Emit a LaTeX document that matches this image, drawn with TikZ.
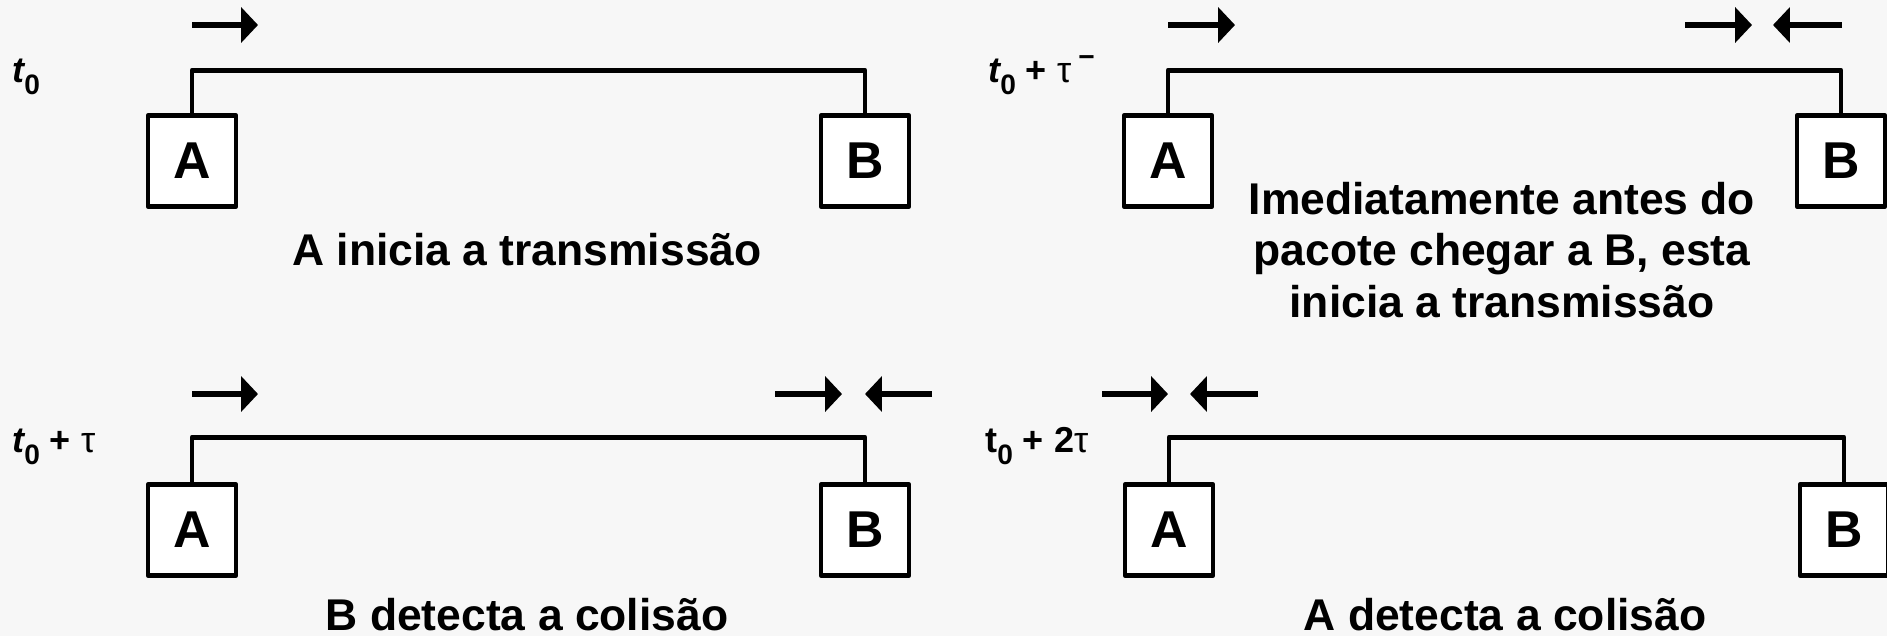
\documentclass[tikz,border=0pt]{standalone}
\usepackage{fontspec}
\setmainfont{Liberation Sans}
\usetikzlibrary{arrows.meta,positioning}

\definecolor{slidegray}{RGB}{247,247,247}

\newcommand{\tsub}{\raisebox{-7pt}{\fontsize{16}{16}\selectfont 0}}
\newcommand{\tzero}{{\itshape t}\tsub}

\tikzset{
  station/.style={draw, line width=2.8pt, line join=round, fill=white,
    minimum width=1.76cm, minimum height=1.81cm, inner sep=0pt,
    font=\fontsize{29.5}{29.5}\selectfont\bfseries},
  bus/.style={line width=2.8pt, line join=round},
  pkt/.style={line width=3.2pt, -{Triangle[length=9.6pt,width=19.8pt]}},
  caption/.style={font=\fontsize{25.3}{29.2}\selectfont\bfseries, align=center, inner sep=0pt},
  tlabel/.style={font=\fontsize{20.5}{20.5}\selectfont\bfseries, anchor=base west, inner sep=0pt},
}

\begin{document}
\begin{tikzpicture}[x=0.02cm, y=-0.02cm]
\useasboundingbox (0,0) rectangle (1887,636);
\fill[slidegray] (0,0) rectangle (1887,636);

% t0 : A starts
\node[tlabel] (t1) at (12,82) {\tzero};
\node[station] (A1) at (192,161) {A};
\node[station] (B1) at (865,161) {B};
\draw[bus] (A1.north) -- ++(0,-43) -| (B1.north);
\draw[pkt] (192,25) -- (258,25);
\node[caption, anchor=base] (c1) at (527,265) {A inicia a transmissão};

% t0 + tau^- : B starts just before the packet arrives
\node[tlabel] (t2) at (988,82) {\tzero{} + {\mdseries τ}\hspace{4pt}\raisebox{9pt}{\fontsize{16}{16}\selectfont −}};
\node[station] (A2) at (1168,161) {A};
\node[station] (B2) at (1841,161) {B};
\draw[bus] (A2.north) -- ++(0,-43) -| (B2.north);
\draw[pkt] (1168,25) -- (1235,25);
\draw[pkt] (1685,25) -- (1752,25);
\draw[pkt] (1842,25) -- (1773,25);
\node[caption] (c2) at (1502,250) {Imediatamente antes do\\pacote chegar a B, esta\\inicia a transmissão};

% t0 + tau : B detects
\node[tlabel] (t3) at (12,452) {\tzero{} + {\mdseries τ}};
\node[station] (A3) at (192,530) {A};
\node[station] (B3) at (865,530) {B};
\draw[bus] (A3.north) -- ++(0,-45) -| (B3.north);
\draw[pkt] (192,394) -- (258,394);
\draw[pkt] (775,394) -- (842,394);
\draw[pkt] (932,394) -- (865,394);
\node[caption, anchor=base] (c3) at (527,630) {B detecta a colisão};

% t0 + 2tau : A detects
\node[tlabel] (t4) at (985,452) {t\tsub{} + 2{\mdseries τ}};
\node[station] (A4) at (1169,530) {A};
\node[station] (B4) at (1844,530) {B};
\draw[bus] (A4.north) -- ++(0,-45) -| (B4.north);
\draw[pkt] (1102,394) -- (1168,394);
\draw[pkt] (1258,394) -- (1190,394);
\node[caption, anchor=base] (c4) at (1505,630) {A detecta a colisão};
\end{tikzpicture}
\end{document}
